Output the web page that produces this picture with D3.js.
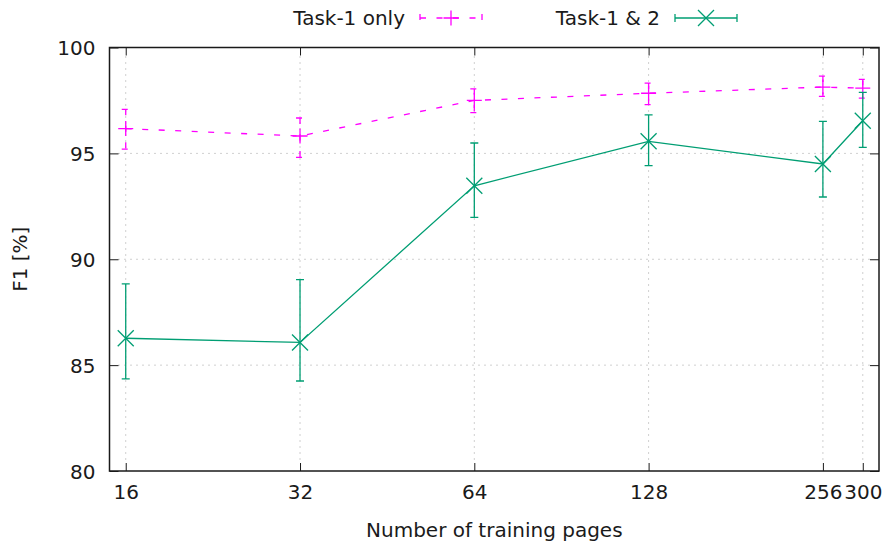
<!DOCTYPE html>
<html>
<head>
<meta charset="utf-8">
<script src="https://cdn.jsdelivr.net/npm/d3@7"></script>
<style>
  body { margin: 0; background: #fff; }
  text { font-family: "DejaVu Sans", sans-serif; fill: #1a1a1a; }
</style>
</head>
<body>
<svg width="885" height="541"></svg>
<script>
// training set sizes (x)
const pages = [16, 32, 64, 128, 256, 300]
const xTicks = [16, 32, 64, 128, 256, 300]
const yTicks = [80, 85, 90, 95, 100]

// Task-1 only: mean, low, high
const task1Mean = [96.17, 95.82, 97.5, 97.84, 98.13, 98.08]
const task1Low = [95.2, 94.81, 96.92, 97.3, 97.69, 97.61]
const task1High = [97.08, 96.67, 98.05, 98.32, 98.65, 98.49]

// Task-1 & 2
const task12Mean = [86.27, 86.07, 93.47, 95.57, 94.5, 96.54]
const task12Low = [84.35, 84.25, 91.98, 94.42, 92.94, 95.28]
const task12High = [88.84, 89.04, 95.49, 96.82, 96.51, 97.88]

let svg = d3.select("svg"),
    margin = {top: 47.5, right: 6, bottom: 70, left: 109.5},
    width = +svg.attr("width") - margin.left - margin.right,
    height = +svg.attr("height") - margin.top - margin.bottom

let x = d3.scaleLog().base(2).domain([15, 320]).range([0, width])
let y = d3.scaleLinear().domain([80, 100]).range([height, 0])

let g = svg.append("g").attr("transform", "translate(" + margin.left + "," + margin.top + ")")

// grid lines
g.selectAll(".gx")
    .data(xTicks)
    .enter()
    .append("line")
    .attr("x1", d => x(d)).attr("x2", d => x(d))
    .attr("y1", 9).attr("y2", height - 9)
    .attr("stroke", "#a0a0a0")
    .attr("stroke-dasharray", "1,5")
g.selectAll(".gy")
    .data(yTicks.slice(1, -1))
    .enter()
    .append("line")
    .attr("x1", 9).attr("x2", width - 9)
    .attr("y1", d => y(d)).attr("y2", d => y(d))
    .attr("stroke", "#a0a0a0")
    .attr("stroke-dasharray", "1,5")

// axes with inward ticks, mirrored
let xAxis = d3.axisBottom(x).tickValues(xTicks).tickFormat(d3.format("d")).tickSizeInner(-8).tickSizeOuter(0).tickPadding(14)
let gx = g.append("g").attr("transform", "translate(0," + height + ")").call(xAxis)
g.append("g").call(d3.axisTop(x).tickValues(xTicks).tickFormat("").tickSizeInner(-8).tickSizeOuter(0))
let yAxis = d3.axisLeft(y).tickValues(yTicks).tickSizeInner(-9).tickSizeOuter(0).tickPadding(14)
let gy = g.append("g").call(yAxis)
g.append("g").attr("transform", "translate(" + width + ",0)")
    .call(d3.axisRight(y).tickValues(yTicks).tickFormat("").tickSizeInner(-9).tickSizeOuter(0))

g.selectAll(".domain").remove()
g.selectAll(".tick line").attr("stroke", "#1a1a1a")
gx.selectAll("text").style("font-size", "20px").attr("fill", "#1a1a1a")
gy.selectAll("text").style("font-size", "20px").attr("fill", "#1a1a1a").attr("dy", "0.36em")

g.append("rect")
    .attr("width", width).attr("height", height)
    .attr("fill", "none").attr("stroke", "#1a1a1a").attr("stroke-width", 1.5)

// axis titles
svg.append("text")
    .attr("x", margin.left + x(64) + 20).attr("y", 537)
    .attr("text-anchor", "middle")
    .style("font-size", "20px")
    .text("Number of training pages")
svg.append("text")
    .attr("transform", "translate(27," + (margin.top + height / 2) + ") rotate(-90)")
    .attr("text-anchor", "middle")
    .style("font-size", "20px")
    .text("F1 [%]")

function drawSeries(mean, low, high, color, dash, marker) {
    let pts = pages.map((p, i) => ({x: p, m: mean[i], lo: low[i], hi: high[i]}))
    let line = d3.line().x(d => x(d.x)).y(d => y(d.m))
    g.append("path")
        .datum(pts)
        .attr("d", line)
        .attr("fill", "none")
        .attr("stroke", color)
        .attr("stroke-width", 1.3)
        .attr("stroke-dasharray", dash)

    let eb = g.selectAll(null).data(pts).enter().append("g")
    eb.append("path")
        .attr("d", d => "M" + (x(d.x) - 4) + "," + y(d.hi) + "h8M" + x(d.x) + "," + y(d.hi) +
            "V" + y(d.lo) + "M" + (x(d.x) - 4) + "," + y(d.lo) + "h8")
        .attr("fill", "none")
        .attr("stroke", color)
        .attr("stroke-width", 1.3)
        .attr("stroke-dasharray", dash)
    eb.append("path")
        .attr("d", d => marker(x(d.x), y(d.m)))
        .attr("fill", "none")
        .attr("stroke", color)
        .attr("stroke-width", 1.3)
}

const plus = (cx, cy) => "M" + (cx - 7.5) + "," + cy + "h15M" + cx + "," + (cy - 7.5) + "v15"
const cross = (cx, cy) => "M" + (cx - 8) + "," + (cy - 8) + "l16,16M" + (cx - 8) + "," + (cy + 8) + "l16,-16"

drawSeries(task1Mean, task1Low, task1High, "#ff00ff", "6,10.5", plus)
drawSeries(task12Mean, task12Low, task12High, "#009e73", null, cross)

// legend
const legendNames = ["Task-1 only", "Task-1 & 2"]
const legendColors = ["#ff00ff", "#009e73"]
const legendDash = ["6,10.5", null]
const legendMarker = [plus, cross]
const legendX = [405, 660]

legendNames.forEach(function (name, i) {
    let lx = legendX[i], ly = 18
    svg.append("text")
        .attr("x", lx).attr("y", ly)
        .attr("dy", "0.36em")
        .attr("text-anchor", "end")
        .style("font-size", "20px")
        .text(name)
    let s = lx + 15, e = lx + 77
    svg.append("path")
        .attr("d", "M" + s + "," + (ly - 4) + "v8M" + s + "," + ly + "H" + e + "M" + e + "," + (ly - 4) + "v8")
        .attr("fill", "none")
        .attr("stroke", legendColors[i])
        .attr("stroke-width", 1.3)
        .attr("stroke-dasharray", legendDash[i])
    svg.append("path")
        .attr("d", legendMarker[i]((s + e) / 2, ly))
        .attr("fill", "none")
        .attr("stroke", legendColors[i])
        .attr("stroke-width", 1.3)
})
</script>
</body>
</html>
